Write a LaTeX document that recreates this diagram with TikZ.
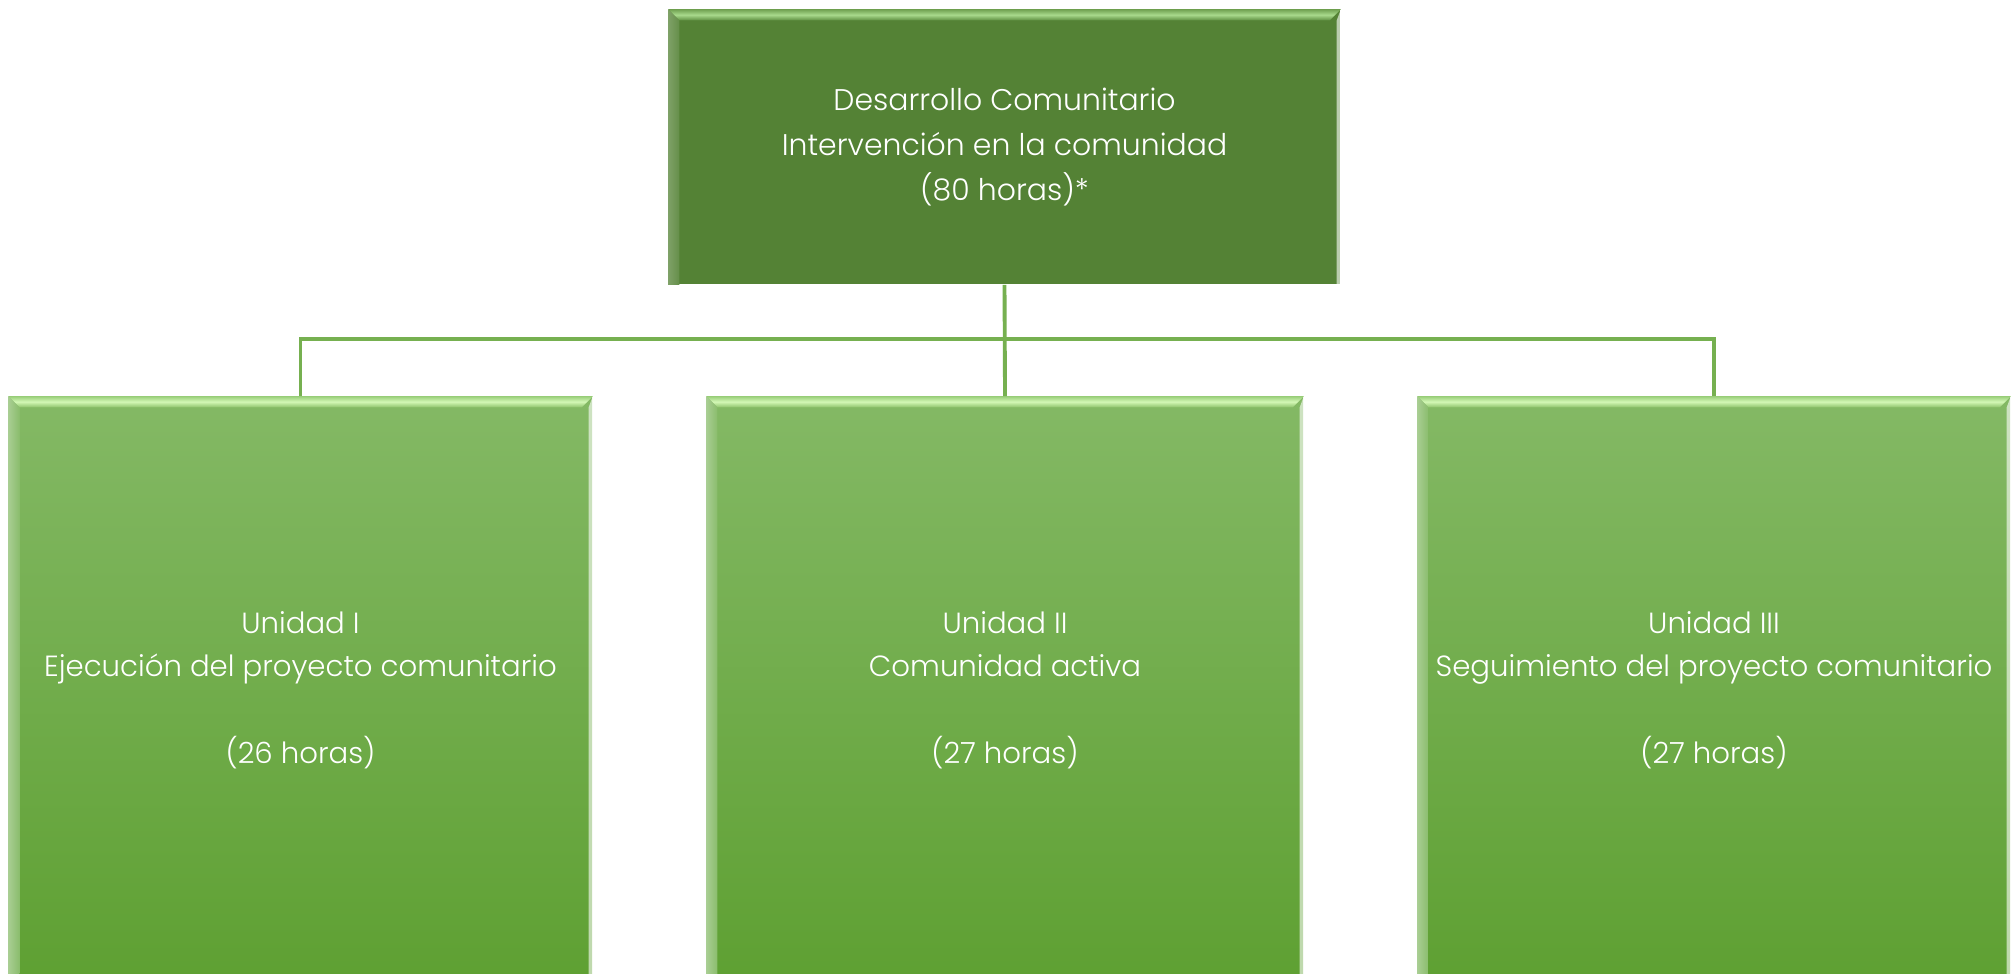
\documentclass[tikz,border=0pt]{standalone}
\usepackage{fontspec}
\setmainfont{Poppins}[UprightFont={* Light}]
\usepackage{xcolor}
\usepackage{tikz}
\usetikzlibrary{positioning}

\definecolor{topgreen}{HTML}{548235}
\definecolor{unitlight}{HTML}{84B965}
\definecolor{unitdark}{HTML}{5EA032}
\definecolor{linkgreen}{HTML}{76B050}
\definecolor{headrimA}{HTML}{6FA04F}
\definecolor{headrimB}{HTML}{A8D98C}
\definecolor{headrimC}{HTML}{5E8F40}
\definecolor{unitrimA}{HTML}{98CE78}
\definecolor{unitrimB}{HTML}{D3F7B6}
\definecolor{unitrimC}{HTML}{8EC46C}

\newcommand\bevel[3]{%
  \shade[#2] (#1.north west) -- (#1.north east) -- ([xshift=-3.2pt,yshift=-3.2pt]#1.north east)
    -- ([xshift=3.2pt,yshift=-3.2pt]#1.north west) -- cycle;
  \shade[#3] (#1.north west) -- ([xshift=3.2pt,yshift=-3.2pt]#1.north west)
    -- ([xshift=3.2pt]#1.south west) -- (#1.south west) -- cycle;
  \fill[white, opacity=.6] (#1.north east) -- ([xshift=-1.2pt,yshift=-3.2pt]#1.north east)
    -- ([xshift=-1.2pt]#1.south east) -- (#1.south east) -- cycle;
}

\tikzset{
  headbox/.style={fill=topgreen, text=white, align=center, inner sep=0pt,
    minimum width=6.71cm, minimum height=2.74cm, font=\fontsize{8.5}{12.8}\selectfont},
  unitbox/.style={top color=unitlight, bottom color=unitdark, text=white, align=center,
    inner sep=0pt, minimum width=#1, minimum height=5.86cm, font=\fontsize{8.3}{12.3}\selectfont},
  headrim/.style={top color=headrimA, bottom color=headrimC, middle color=headrimB},
  headside/.style={left color=topgreen!75!white, right color=topgreen!90!white},
  unitrim/.style={top color=unitrimA, bottom color=unitrimC, middle color=unitrimB},
  unitside/.style={left color=unitlight!70!white, right color=unitlight!95!white},
  link/.style={draw=linkgreen, line width=0.9pt}
}

\begin{document}
\begin{tikzpicture}[x=0.01cm,y=-0.01cm]
\clip (0,0) rectangle (2016,974);
\fill[white] (0,0) rectangle (2016,974);
      \node[headbox] (head) at (1004.5,147) {Desarrollo Comunitario\\Intervención en la comunidad\\(80 horas)*};
      \node[unitbox=5.83cm] (unitA) at (300.5,690) {Unidad I\\Ejecución del proyecto comunitario\\[12.3pt](26 horas)};
      \node[unitbox=5.96cm] (unitB) at (1005,690) {Unidad II\\Comunidad activa\\[12.3pt](27 horas)};
      \node[unitbox=5.92cm] (unitC) at (1714,690) {Unidad III\\Seguimiento del proyecto comunitario\\[12.3pt](27 horas)};
      \bevel{head}{headrim}{headside}
      \bevel{unitA}{unitrim}{unitside}
      \bevel{unitB}{unitrim}{unitside}
      \bevel{unitC}{unitrim}{unitside}
      \coordinate (bus) at (1005,339);
      \draw[link, line width=1.1pt] (head.south) -- (unitB.north);
      \draw[link] (unitA.north) |- (bus) -| (unitC.north);
\end{tikzpicture}
\end{document}
